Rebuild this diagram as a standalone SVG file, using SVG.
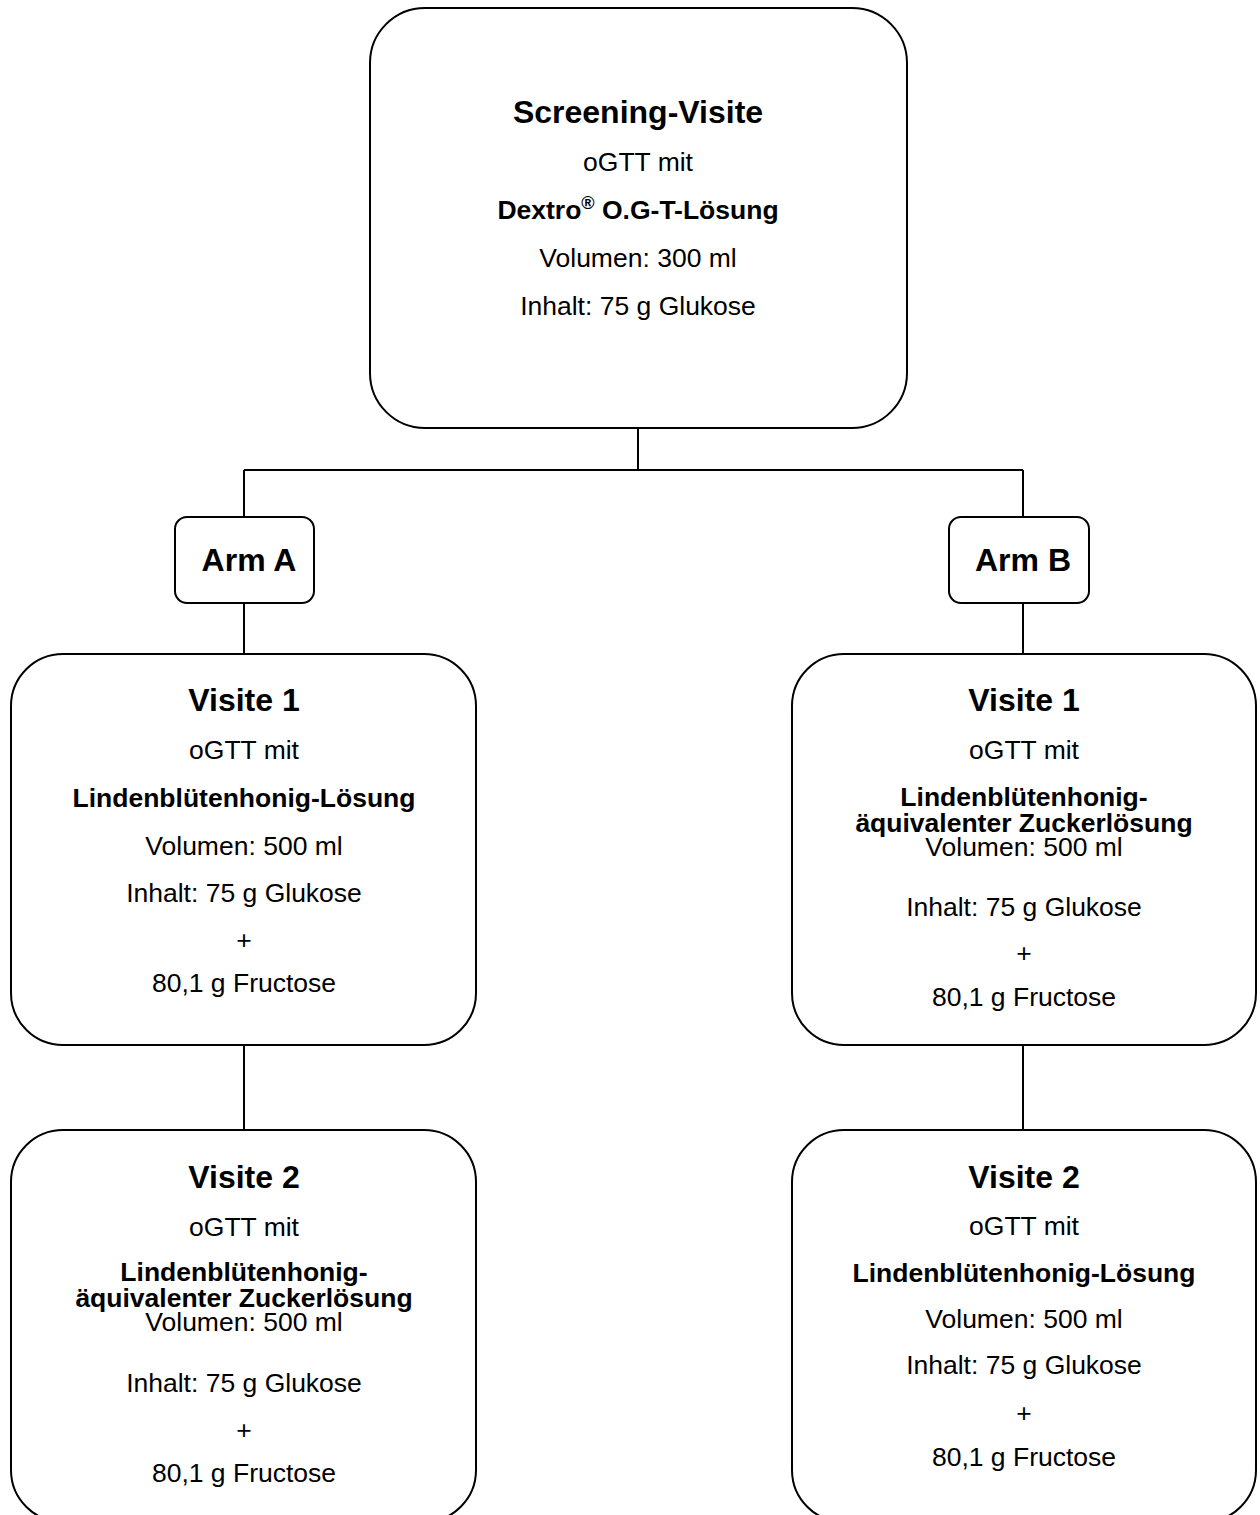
<svg xmlns="http://www.w3.org/2000/svg" width="1260" height="1515" viewBox="0 0 1260 1515">
<style>
.box{fill:#fff;stroke:#000;stroke-width:2}
.ln{fill:none;stroke:#000;stroke-width:2}
text{font-family:"Liberation Sans",Arial,sans-serif;fill:#000;text-anchor:middle}
.h{font-size:32px;font-weight:bold}
.b{font-size:26.5px;font-weight:bold}
.t{font-size:26.5px}
</style>
<rect width="1260" height="1515" fill="#fff"/>
<g id="connectors">
<path class="ln" d="M638 428V470M244 470H1023M244 470V517M1023 470V517M244 603V654M1023 603V654M244 1045V1130M1023 1045V1130"/>
</g>
<g id="screening">
<rect class="box" x="370" y="8" width="537" height="420" rx="55"/>
<text class="h" x="638" y="123">Screening-Visite</text>
<text class="t" x="638" y="171">oGTT mit</text>
<text class="b" x="638" y="219">Dextro<tspan font-size="18" dy="-10">®</tspan><tspan dy="10"> O.G-T-Lösung</tspan></text>
<text class="t" x="638" y="267">Volumen: 300 ml</text>
<text class="t" x="638" y="315">Inhalt: 75 g Glukose</text>
</g>
<g id="armA">
<rect class="box" x="175" y="517" width="139" height="86" rx="12"/>
<text class="h" x="249" y="571">Arm A</text>
</g>
<g id="armB">
<rect class="box" x="949" y="517" width="140" height="86" rx="12"/>
<text class="h" x="1023" y="571">Arm B</text>
</g>
<g id="a-visite1">
<rect class="box" x="11" y="654" width="465" height="391" rx="52"/>
<text class="h" x="244" y="711">Visite 1</text>
<text class="t" x="244" y="759">oGTT mit</text>
<text class="b" x="244" y="807">Lindenblütenhonig-Lösung</text>
<text class="t" x="244" y="855">Volumen: 500 ml</text>
<text class="t" x="244" y="902">Inhalt: 75 g Glukose</text>
<text class="t" x="244" y="949">+</text>
<text class="t" x="244" y="992">80,1 g Fructose</text>
</g>
<g id="b-visite1">
<rect class="box" x="792" y="654" width="464" height="391" rx="52"/>
<text class="h" x="1024" y="711">Visite 1</text>
<text class="t" x="1024" y="759">oGTT mit</text>
<text class="b" x="1024" y="806">Lindenblütenhonig-</text>
<text class="b" x="1024" y="832">äquivalenter Zuckerlösung</text>
<text class="t" x="1024" y="856">Volumen: 500 ml</text>
<text class="t" x="1024" y="916">Inhalt: 75 g Glukose</text>
<text class="t" x="1024" y="962">+</text>
<text class="t" x="1024" y="1006">80,1 g Fructose</text>
</g>
<g id="a-visite2">
<rect class="box" x="11" y="1130" width="465" height="392" rx="52"/>
<text class="h" x="244" y="1188">Visite 2</text>
<text class="t" x="244" y="1236">oGTT mit</text>
<text class="b" x="244" y="1281">Lindenblütenhonig-</text>
<text class="b" x="244" y="1307">äquivalenter Zuckerlösung</text>
<text class="t" x="244" y="1331">Volumen: 500 ml</text>
<text class="t" x="244" y="1392">Inhalt: 75 g Glukose</text>
<text class="t" x="244" y="1439">+</text>
<text class="t" x="244" y="1482">80,1 g Fructose</text>
</g>
<g id="b-visite2">
<rect class="box" x="792" y="1130" width="464" height="392" rx="52"/>
<text class="h" x="1024" y="1188">Visite 2</text>
<text class="t" x="1024" y="1235">oGTT mit</text>
<text class="b" x="1024" y="1282">Lindenblütenhonig-Lösung</text>
<text class="t" x="1024" y="1328">Volumen: 500 ml</text>
<text class="t" x="1024" y="1374">Inhalt: 75 g Glukose</text>
<text class="t" x="1024" y="1422">+</text>
<text class="t" x="1024" y="1466">80,1 g Fructose</text>
</g>
</svg>
